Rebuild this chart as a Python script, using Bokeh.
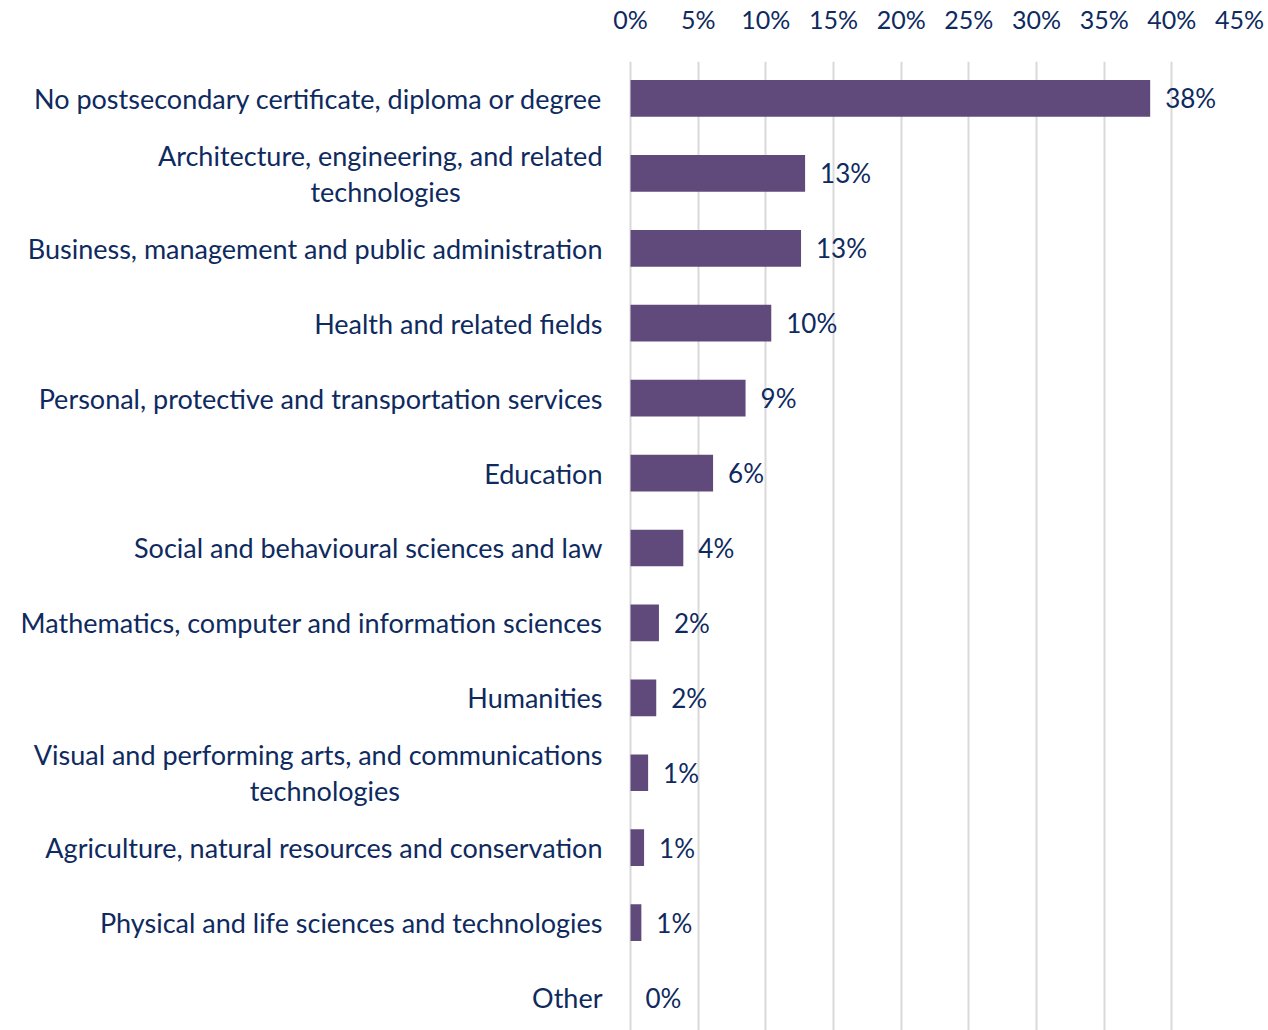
from bokeh.plotting import figure
from bokeh.models import Range1d, FixedTicker, ColumnDataSource
from bokeh.core.properties import value
from bokeh.embed import file_html
from bokeh.resources import INLINE

categories = [
    "No postsecondary certificate, diploma or degree",
    "Architecture, engineering, and related\ntechnologies",
    "Business, management and public administration",
    "Health and related fields",
    "Personal, protective and transportation services",
    "Education",
    "Social and behavioural sciences and law",
    "Mathematics, computer and information sciences",
    "Humanities",
    "Visual and performing arts, and communications\ntechnologies",
    "Agriculture, natural resources and conservation",
    "Physical and life sciences and technologies",
    "Other",
]
values = [38.4, 12.9, 12.6, 10.4, 8.5, 6.1, 3.9, 2.1, 1.9, 1.3, 1.0, 0.8, 0.0]
value_labels = ["38%", "13%", "13%", "10%", "9%", "6%", "4%", "2%", "2%", "1%", "1%", "1%", "0%"]
x_ticks = [0, 5, 10, 15, 20, 25, 30, 35, 40, 45]

FONT = "Lato"
NAVY = "#0e2a5e"
BAR = "#604a7b"
CAT_SIZE = "27px"
# trailing padding (in em-space units) so the second line of a two-line label sits centred
second_line_pad_em = {1: 7.0, 9: 10.0}


def pad(n_em):
    full = int(n_em)
    return "\u2003" * full + ("\u2002" if n_em - full >= 0.5 else "")


def axis_text(i, c):
    if "\n" in c:
        first, second = c.split("\n")
        return first + "\n" + second + pad(second_line_pad_em[i])
    return c


pos = list(range(len(categories)))
src = ColumnDataSource(dict(y=pos, v=values, lab=value_labels))

p = figure(width=1264, height=1030, output_backend="svg", toolbar_location=None,
           x_range=Range1d(-0.15, 45), y_range=Range1d(start=12.44, end=-0.493),
           x_axis_location="above", min_border_left=628, min_border_right=25,
           min_border_top=60, min_border_bottom=0)
p.outline_line_color = None

p.xgrid.grid_line_color = "#d9d9d9"
p.xgrid.grid_line_width = 2
p.xgrid.ticker = FixedTicker(ticks=x_ticks)
p.ygrid.grid_line_color = None

p.hbar(y="y", right="v", left=0, height=0.49, source=src, fill_color=BAR, line_color=None)
p.text(x="v", y="y", text="lab", source=src, x_offset=15, text_align="left",
       text_baseline="middle", text_font=value(FONT), text_font_size="26px",
       text_color=NAVY)

xa = p.xaxis[0]
xa.ticker = FixedTicker(ticks=x_ticks)
xa.major_label_overrides = {t: f"{t}%" for t in x_ticks}
xa.axis_line_color = None
xa.major_tick_line_color = None
xa.minor_tick_line_color = None
xa.major_label_text_font = FONT
xa.major_label_text_font_size = "25px"
xa.major_label_text_color = NAVY
xa.major_label_standoff = 22

ya = p.yaxis[0]
ya.ticker = FixedTicker(ticks=pos)
ya.major_label_overrides = {i: axis_text(i, c) for i, c in enumerate(categories)}
ya.axis_line_color = None
ya.major_tick_line_color = None
ya.minor_tick_line_color = None
ya.major_label_text_font = FONT
ya.major_label_text_font_size = CAT_SIZE
ya.major_label_text_color = NAVY
ya.major_label_text_line_height = 1.1
ya.major_label_standoff = 20

open("out.html", "w").write(file_html(p, INLINE))
